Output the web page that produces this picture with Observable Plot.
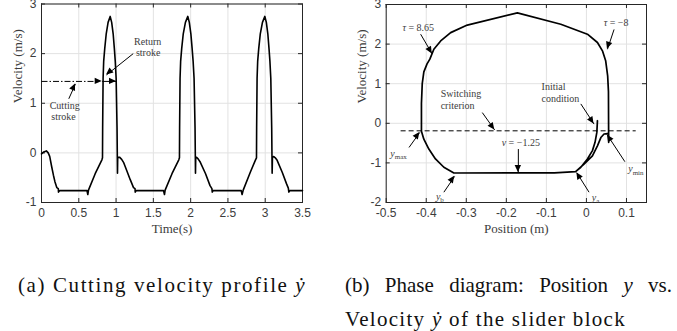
<!DOCTYPE html>
<html><head><meta charset="utf-8">
<script src="https://cdn.jsdelivr.net/npm/d3@7"></script>
<script src="https://cdn.jsdelivr.net/npm/@observablehq/plot@0.6"></script>
<style>
body{margin:0;background:#fff;}
#wrap{position:relative;width:677px;height:331px;overflow:hidden;background:#fff;}
#left{position:absolute;left:0;top:0;}
#right{position:absolute;left:338px;top:0;}
.cap{position:absolute;font-family:"Liberation Serif",serif;font-size:21px;color:#111;line-height:18px;}
</style></head><body>
<div id="wrap">
<div id="left"></div><div id="right"></div>
<div class="cap" style="left:18px;top:276px;white-space:nowrap;letter-spacing:1.6px;">(a) Cutting velocity profile <i>ẏ</i></div>
<div class="cap" style="left:345px;top:276px;width:327px;text-align:justify;text-align-last:justify;">(b) Phase diagram: Position <i>y</i> vs.</div>
<div class="cap" style="left:345px;top:310px;white-space:nowrap;letter-spacing:1.3px;">Velocity <i>ẏ</i> of the slider block</div>
</div>
<script>
// ---------- (a) velocity profile ----------
const timeS = [
 0.000,0.030,0.065,0.090,0.110,0.138,0.160,0.180,0.205,0.225,0.228,0.245,
 0.610,0.621,0.630,0.720,0.810,0.818,
 0.820,0.826,0.834,0.848,0.868,0.893,0.921,0.941,0.961,0.977,0.989,1.001,1.013,1.019,
 1.022,1.046,1.075,1.100,1.144,1.190,1.234,1.254,1.257,1.270,
 1.636,1.649,1.658,1.750,1.841,1.850,
 1.852,1.858,1.866,1.880,1.901,1.930,1.962,1.982,2.003,2.020,2.033,2.046,2.059,2.065,
 2.068,2.079,2.100,2.130,2.200,2.260,2.285,2.290,2.300,
 2.678,2.690,2.705,2.800,2.870,2.883,
 2.885,2.891,2.899,2.913,2.934,2.963,2.995,3.015,3.035,3.051,3.063,3.075,3.087,3.093,
 3.097,3.115,3.135,3.160,3.228,3.285,3.310,3.317,3.330,3.500
];
const velocity = [
 -0.02,0.02,0.04,0.00,-0.07,-0.29,-0.45,-0.58,-0.70,-0.72,-0.79,-0.76,
 -0.76,-0.84,-0.75,-0.42,-0.14,-0.10,
 0.5,1.5,1.85,2.1,2.4,2.63,2.75,2.63,2.4,2.1,1.85,1.5,0.5,-0.41,
 -0.09,-0.087,-0.13,-0.19,-0.36,-0.54,-0.70,-0.72,-0.79,-0.76,
 -0.76,-0.84,-0.75,-0.42,-0.14,-0.10,
 0.5,1.5,1.85,2.1,2.4,2.63,2.75,2.63,2.4,2.1,1.85,1.5,0.5,-0.41,
 -0.09,-0.087,-0.12,-0.19,-0.42,-0.66,-0.72,-0.79,-0.76,
 -0.76,-0.84,-0.75,-0.39,-0.14,-0.10,
 0.5,1.5,1.85,2.1,2.4,2.63,2.75,2.63,2.4,2.1,1.85,1.5,0.5,-0.41,
 -0.09,-0.073,-0.10,-0.15,-0.39,-0.62,-0.71,-0.79,-0.76,-0.76
];
const timeTicks = [0,0.5,1,1.5,2,2.5,3,3.5];
const velTicksA = [-1,0,1,2,3];
const notesA = [
 {x:1.424,y:2.23,text:"Return"},{x:1.43,y:2.01,text:"stroke"},
 {x:0.311,y:0.95,text:"Cutting"},{x:0.295,y:0.73,text:"stroke"}
];
const arrowsA = [
 {x1:1.23,y1:2.00,x2:0.872,y2:1.57},
 {x1:0.366,y1:1.09,x2:0.456,y2:1.39},
 {x1:0.814,y1:1.44,x2:1.006,y2:1.44}
];
const dashA = [{x1:0,y1:1.44,x2:0.73,y2:1.44}];
const dashHeadA = [{x1:0.5,y1:1.44,x2:0.814,y2:1.44}];

// ---------- (b) phase diagram ----------
const position = [
 0.0275,0.026,0.0215,0.015,0.0025,-0.014,-0.027,-0.08,-0.331,
 -0.356,-0.377,-0.3935,-0.406,-0.412,-0.412,-0.410,-0.406,-0.398,-0.391,-0.381,-0.364,-0.339,-0.2975,
 -0.1725,-0.064,0.0025,0.0275,0.040,0.048,0.053,0.055,0.0555,
 0.0555,0.0525,0.044,0.036,0.0275,0.015,-0.006,-0.027
];
const phaseVel = [
 0.065,-0.23,-0.48,-0.69,-0.90,-1.11,-1.22,-1.25,-1.255,
 -1.11,-0.90,-0.65,-0.40,-0.20,0.5,1.0,1.3,1.5,1.62,1.87,2.08,2.29,2.48,
 2.79,2.50,2.25,2.04,1.83,1.58,1.2,0.8,-0.48,
 -0.27,-0.26,-0.27,-0.36,-0.57,-0.82,-1.03,-1.22
];
const posTicks = [-0.5,-0.4,-0.3,-0.2,-0.1,0,0.1];
const velTicksB = [-2,-1,0,1,2,3];
const switchLevel = [{x1:-0.464,x2:0.123,y:-0.19}];
const notesBc = [
 {x:-0.42,y:2.42,text:"*τ* = 8.65"},{x:0.074,y:2.54,text:"*τ* = −8"},
 {x:-0.164,y:-0.5,text:"*v* = −1.25"},
 {x:-0.469,y:-0.77,text:"*y*_{max}"},{x:-0.366,y:-1.85,text:"*y*_{b}"},
 {x:0.023,y:-1.88,text:"*y*_{a}"},{x:0.1235,y:-1.15,text:"*y*_{min}"}
];
const notesBl = [
 {x:-0.364,y:0.75,text:"Switching"},{x:-0.364,y:0.44,text:"criterion"},
 {x:-0.112,y:0.92,text:"Initial"},{x:-0.112,y:0.63,text:"condition"}
];
const arrowsB = [
 {x1:-0.414,y1:2.25,x2:-0.385,y2:1.75},
 {x1:0.069,y1:2.37,x2:0.0525,y2:1.87},
 {x1:-0.26,y1:0.27,x2:-0.229,y2:-0.17},
 {x1:-0.014,y1:0.49,x2:0.019,y2:-0.02},
 {x1:-0.17,y1:-0.65,x2:-0.17,y2:-1.24},
 {x1:-0.443,y1:-0.61,x2:-0.416,y2:-0.23},
 {x1:-0.356,y1:-1.74,x2:-0.329,y2:-1.34},
 {x1:0.0065,y1:-1.74,x2:-0.024,y2:-1.25},
 {x1:0.096,y1:-0.97,x2:0.0525,y2:-0.30}
];

// ---------- helpers ----------
const INK = "#3c3c3c";
function heads(list, len = 7, half = 3.2) {
  return (index, scales) => {
    const sx = scales.x, sy = scales.y;
    const g = d3.create("svg:g");
    for (const a of list) {
      const x1 = sx(a.x1), y1 = sy(a.y1), x2 = sx(a.x2), y2 = sy(a.y2);
      const L = Math.hypot(x2 - x1, y2 - y1), ux = (x2 - x1) / L, uy = (y2 - y1) / L;
      const bx = x2 - ux * len, by = y2 - uy * len;
      g.append("path")
        .attr("d", `M${x2},${y2}L${bx - uy * half},${by + ux * half}L${bx + uy * half},${by - ux * half}Z`)
        .attr("fill", "#000");
    }
    return g.node();
  };
}
function richText(svg) {
  svg.querySelectorAll("text").forEach(t => {
    const s = t.textContent;
    if (!/[*]|_\{/.test(s)) return;
    const parts = s.split(/(\*[^*]+\*|_\{[^}]+\})/).filter(p => p);
    t.textContent = "";
    for (const p of parts) {
      const ts = document.createElementNS("http://www.w3.org/2000/svg", "tspan");
      if (p.startsWith("*")) { ts.textContent = p.slice(1, -1); ts.setAttribute("font-style", "italic"); }
      else if (p.startsWith("_{")) { ts.textContent = p.slice(2, -1); ts.setAttribute("font-size", "7"); ts.setAttribute("dy", "2.5"); }
      else ts.textContent = p;
      t.appendChild(ts);
    }
  });
}
function frameMarks(xt, yt, iw, ih) {
  return [
    Plot.gridX(xt, {stroke: "#e2e2e2", strokeOpacity: 1}),
    Plot.gridY(yt, {stroke: "#e2e2e2", strokeOpacity: 1}),
    Plot.ruleX(xt, {stroke: "#262626", insetTop: ih - 4}),
    Plot.ruleX(xt, {stroke: "#262626", insetBottom: ih - 4}),
    Plot.ruleY(yt, {stroke: "#262626", insetRight: iw - 4}),
    Plot.ruleY(yt, {stroke: "#262626", insetLeft: iw - 4}),
    Plot.frame({stroke: "#262626", strokeWidth: 1}),
    Plot.axisX(xt, {tickSize: 0, tickPadding: 6, tickFormat: d => String(d), fill: INK, fontSize: 12}),
    Plot.axisY(yt, {tickSize: 0, tickPadding: 5, tickFormat: d => String(d), fill: INK, fontSize: 12})
  ];
}
const serif = "Liberation Serif, Times New Roman, serif";
const style = {fontFamily: "Liberation Sans, Arial, sans-serif", fontSize: "12px", color: INK, background: "transparent"};

// ---------- chart (a) ----------
{
  const W = 338, H = 245, mL = 41, mR = 36, mT = 3.5, mB = 43;
  const svg = Plot.plot({
    width: W, height: H, marginLeft: mL, marginRight: mR, marginTop: mT, marginBottom: mB,
    x: {domain: [0, 3.5]}, y: {domain: [-1, 3]}, style,
    marks: [
      ...frameMarks(timeTicks, velTicksA, W - mL - mR, H - mT - mB),
      Plot.text(["Time(s)"], {frameAnchor: "bottom", dy: 30, fontFamily: serif, fontSize: 13, fill: INK}),
      Plot.text(["Velocity (m/s)"], {frameAnchor: "left", rotate: -90, dx: -24, fontFamily: serif, fontSize: 13, fill: INK}),
      Plot.link(dashA, {x1: "x1", y1: "y1", x2: "x2", y2: "y2", stroke: "#000", strokeWidth: 1, strokeDasharray: "6,2,1.5,2"}),
      Plot.link(arrowsA, {x1: "x1", y1: "y1", x2: "x2", y2: "y2", stroke: "#000", strokeWidth: 1}),
      heads(arrowsA), heads(dashHeadA),
      Plot.line(velocity, {x: timeS, y: velocity, stroke: "#000", strokeWidth: 1.6}),
      Plot.text(notesA, {x: "x", y: "y", text: "text", fontFamily: serif, fontSize: 10, fill: INK})
    ]
  });
  richText(svg);
  document.getElementById("left").appendChild(svg);
}
// ---------- chart (b) ----------
{
  const W = 339, H = 245, mL = 47.7, mR = 31, mT = 4, mB = 43;
  const svg = Plot.plot({
    width: W, height: H, marginLeft: mL, marginRight: mR, marginTop: mT, marginBottom: mB,
    x: {domain: [-0.5, 0.15]}, y: {domain: [-2, 3]}, style,
    marks: [
      ...frameMarks(posTicks, velTicksB, W - mL - mR, H - mT - mB),
      Plot.text(["Position (m)"], {frameAnchor: "bottom", dy: 30, fontFamily: serif, fontSize: 13, fill: INK}),
      Plot.text(["Velocity (m/s)"], {frameAnchor: "left", rotate: -90, dx: -24, fontFamily: serif, fontSize: 13, fill: INK}),
      Plot.link(switchLevel, {x1: "x1", x2: "x2", y1: "y", y2: "y", stroke: "#000", strokeWidth: 1, strokeDasharray: "5,3"}),
      Plot.line(phaseVel, {x: position, y: phaseVel, stroke: "#000", strokeWidth: 1.7}),
      Plot.link(arrowsB, {x1: "x1", y1: "y1", x2: "x2", y2: "y2", stroke: "#000", strokeWidth: 1}),
      heads(arrowsB),
      Plot.text(notesBc, {x: "x", y: "y", text: "text", fontFamily: serif, fontSize: 10, fill: INK}),
      Plot.text(notesBl, {x: "x", y: "y", text: "text", textAnchor: "start", fontFamily: serif, fontSize: 10, fill: INK})
    ]
  });
  richText(svg);
  document.getElementById("right").appendChild(svg);
}
</script>
</body></html>
